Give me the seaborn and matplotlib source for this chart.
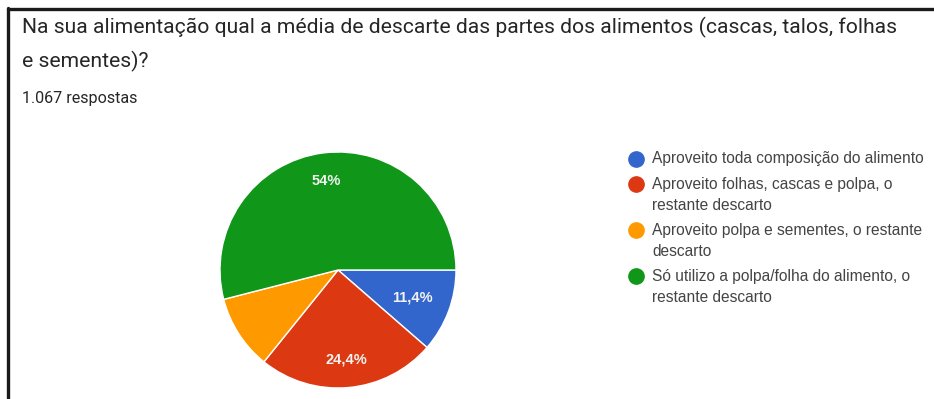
import matplotlib
matplotlib.use("Agg")
import matplotlib.pyplot as plt
from matplotlib.lines import Line2D
import numpy as np
import seaborn as sns

sns.set_theme(style="white")
plt.rcParams["font.family"] = ["Roboto", "DejaVu Sans"]

title_lines = [
    "Na sua alimentação qual a média de descarte das partes dos alimentos (cascas, talos, folhas",
    "e sementes)?",
]
subtitle = "1.067 respostas"
categories = [
    "Aproveito toda composição do alimento",
    "Aproveito folhas, cascas e polpa, o\nrestante descarto",
    "Aproveito polpa e sementes, o restante\ndescarto",
    "Só utilizo a polpa/folha do alimento, o\nrestante descarto",
]
values = [11.4, 24.4, 10.2, 54.0]
colors = sns.color_palette(["#3366CC", "#DC3912", "#FF9900", "#109618"])

W, H = 934, 399
fig = plt.figure(figsize=(W / 100, H / 100), dpi=100)
fig.patch.set_facecolor("white")

def fx(px):
    return px / W

def fy(py):
    return 1 - py / H

# frame lines along the top and left
fig.add_artist(Line2D([fx(8), fx(8)], [fy(8), 0], color="#1a1a1a", lw=2.4))
fig.add_artist(Line2D([fx(8), 1], [fy(8.5), fy(8.5)], color="#1a1a1a", lw=2.4))

# heading
fig.text(fx(22), fy(27), title_lines[0], fontsize=15.2, color="#262626", va="center", ha="left")
fig.text(fx(22), fy(61), title_lines[1], fontsize=15.2, color="#262626", va="center", ha="left")
fig.text(fx(22), fy(98), subtitle, fontsize=11.6, color="#262626", va="center", ha="left")

# pie
cx, cy, r = 338, 270, 118
ax = fig.add_axes([fx(cx - r), fy(cy + r), (2 * r) / W, (2 * r) / H])
wedges, _ = ax.pie(
    values,
    colors=colors,
    startangle=0,
    counterclock=False,
    wedgeprops=dict(edgecolor="white", linewidth=1.0),
)
ax.set_aspect("equal")
ax.set_xlim(-1, 1)
ax.set_ylim(-1, 1)
ax.axis("off")

# percentage labels inside slices large enough to hold them
angle = 0.0
total = sum(values)
for v in values:
    span = 360 * v / total
    mid = np.deg2rad(angle - span / 2)
    angle -= span
    if v >= 11:
        dist = 0.76 if span > 60 else 0.67
        txt = f"{v:.1f}".replace(".", ",") if v % 1 else f"{int(v)}"
        ax.text(dist * np.cos(mid), dist * np.sin(mid), txt + "%",
                ha="center", va="center", color="#f2f2f2", fontsize=10.5,
                fontweight="bold", fontfamily=["Liberation Sans", "DejaVu Sans"])

# legend
leg_font = ["Liberation Sans", "DejaVu Sans"]
y_first = [159, 184, 230, 276]
for label, col, y0 in zip(categories, colors, y_first):
    fig.add_artist(Line2D([fx(636)], [fy(y0)], marker="o", markersize=11,
                          color=col, linestyle="none"))
    for i, line in enumerate(label.split("\n")):
        fig.text(fx(652), fy(y0 + 22 * i), line, fontsize=11.2, color="#444444",
                 va="center", ha="left", fontfamily=leg_font)

fig.savefig("out.png", dpi=100, facecolor="white")
